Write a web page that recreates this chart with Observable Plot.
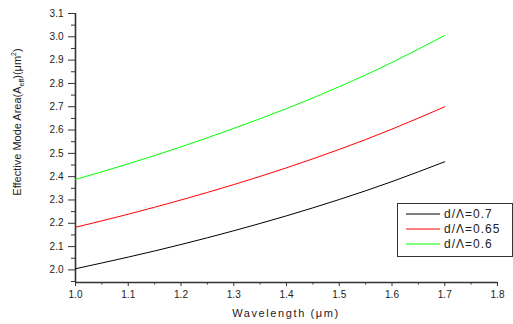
<!DOCTYPE html>
<html>
<head>
<meta charset="utf-8">
<script src="https://cdn.jsdelivr.net/npm/d3@7"></script>
<script src="https://cdn.jsdelivr.net/npm/@observablehq/plot@0.6"></script>
<style>
  html, body { margin: 0; padding: 0; background: #fff; }
  #chart { width: 513px; height: 324px; }
</style>
</head>
<body>
<div id="chart"></div>
<script>
// Data
const wavelength = [1.0, 1.1, 1.2, 1.3, 1.4, 1.5, 1.6, 1.7];
const area07  = [2.005, 2.055, 2.109, 2.168, 2.232, 2.302, 2.379, 2.464];
const area065 = [2.183, 2.239, 2.300, 2.366, 2.438, 2.517, 2.604, 2.700];
const area06  = [2.388, 2.455, 2.528, 2.607, 2.692, 2.786, 2.890, 3.006];
const seriesNames = ["d/\u039B=0.7", "d/\u039B=0.65", "d/\u039B=0.6"];
const seriesColors = ["#000000", "#ff0000", "#00ff00"];
const xTicks = [1.0, 1.1, 1.2, 1.3, 1.4, 1.5, 1.6, 1.7, 1.8];
const xMinorTicks = [1.05, 1.15, 1.25, 1.35, 1.45, 1.55, 1.65, 1.75];
const yTicks = [2.0, 2.1, 2.2, 2.3, 2.4, 2.5, 2.6, 2.7, 2.8, 2.9, 3.0, 3.1];
const yMinorTicks = [1.95, 2.05, 2.15, 2.25, 2.35, 2.45, 2.55, 2.65, 2.75, 2.85, 2.95, 3.05];
const xTitle = "Wavelength (\u03BCm)";

const allSeries = [area07, area065, area06];
const data = [];
allSeries.forEach((vals, i) => vals.forEach((v, j) => data.push({x: wavelength[j], y: v, s: seriesNames[i]})));

const xMin = 1.0, yMin = 1.946;
const fmt = d3.format(".1f");

const plot = Plot.plot({
  width: 513,
  height: 324,
  marginLeft: 75,
  marginRight: 16,
  marginTop: 13,
  marginBottom: 42,
  x: {domain: [1.0, 1.8]},
  y: {domain: [yMin, 3.1]},
  color: {domain: seriesNames, range: seriesColors},
  style: {fontFamily: "'Liberation Sans', Arial, sans-serif", fontSize: "10px", color: "#222", background: "#fff"},
  marks: [
    Plot.axisX(xTicks, {tickSize: 4, tickPadding: 4, tickFormat: fmt, label: null, stroke: "#333"}),
    Plot.axisX(xMinorTicks, {tickSize: 2.5, tickFormat: () => "", label: null, stroke: "#333"}),
    Plot.axisY(yTicks, {tickSize: 7, tickPadding: 5, tickFormat: fmt, label: null, stroke: "#333"}),
    Plot.axisY(yMinorTicks.filter(d => d > yMin), {tickSize: 4, tickFormat: () => "", label: null, stroke: "#333"}),
    Plot.ruleX([xMin], {stroke: "#333", strokeWidth: 1.6}),
    Plot.ruleY([yMin], {stroke: "#333", strokeWidth: 1.6}),
    Plot.line(data, {x: "x", y: "y", z: "s", stroke: "s", strokeWidth: 1, curve: "natural"})
  ]
});

document.getElementById("chart").appendChild(plot);

const svg = d3.select(plot);
// X axis title
svg.append("text")
  .attr("x", 286).attr("y", 317)
  .attr("text-anchor", "middle")
  .attr("font-size", 11)
  .attr("letter-spacing", "1.6px")
  .attr("fill", "#222")
  .text(xTitle);

// Y axis title
const yt = svg.append("text")
  .attr("transform", "translate(21,122) rotate(-90)")
  .attr("text-anchor", "middle")
  .attr("font-size", 11)
  .attr("fill", "#222");
yt.append("tspan").text("Effective Mode Area(A");
yt.append("tspan").attr("font-size", 7).attr("dy", 3).text("eff");
yt.append("tspan").attr("dy", -3).text(")(\u03BCm");
yt.append("tspan").attr("font-size", 7).attr("dy", -5).text("2");
yt.append("tspan").attr("dy", 5).text(")");

// Legend
const lg = svg.append("g");
lg.append("rect").attr("x", 397.5).attr("y", 203.5).attr("width", 115).attr("height", 53)
  .attr("fill", "#fff").attr("stroke", "#333").attr("stroke-width", 1);
seriesNames.forEach((name, i) => {
  const yy = 214 + i * 15;
  lg.append("line").attr("x1", 406).attr("x2", 440).attr("y1", yy).attr("y2", yy)
    .attr("stroke", seriesColors[i]).attr("stroke-width", 1);
  lg.append("text").attr("x", 444).attr("y", yy).attr("dy", "0.35em")
    .attr("text-anchor", "start")
    .attr("font-size", 12).attr("letter-spacing", "1px").attr("fill", "#222").text(name);
});
</script>
</body>
</html>
